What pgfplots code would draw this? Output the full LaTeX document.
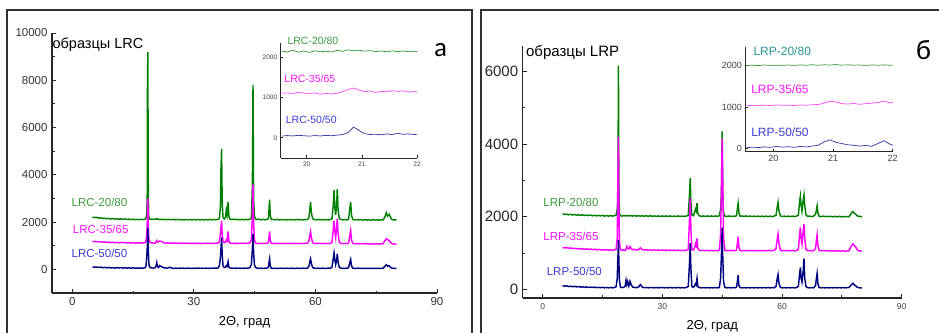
\documentclass[border=0pt]{standalone}
\usepackage{pgfplots}
\usepackage{pgfplotstable}
\pgfplotsset{compat=1.18}
\usepackage{fontspec}
\setmainfont{Liberation Sans}
\newfontfamily\letterfont{Carlito}

\definecolor{colG}{RGB}{0,128,0}
\definecolor{colM}{RGB}{255,0,255}
\definecolor{colB}{RGB}{0,0,128}
\definecolor{txtG}{RGB}{60,155,60}
\definecolor{txtM}{RGB}{255,20,255}
\definecolor{txtB}{RGB}{60,60,215}
\definecolor{inG}{RGB}{50,150,50}
\definecolor{inM}{RGB}{255,70,255}
\definecolor{inB}{RGB}{50,50,160}
\definecolor{txtT}{RGB}{40,150,150}
\definecolor{frm}{RGB}{50,50,50}

\pgfplotstableread{
x g m b
5.0 2210 1190 105
5.5 2190 1170 90
6.0 2205 1180 100
6.5 2170 1160 80
7.0 2185 1175 95
7.5 2150 1150 70
8.0 2165 1160 85
8.5 2140 1140 65
9.0 2155 1155 80
9.5 2130 1130 60
10.0 2150 1150 75
10.5 2125 1125 55
11.0 2145 1145 70
11.5 2120 1120 60
12.0 2140 1140 75
12.5 2115 1125 55
13.0 2135 1140 70
13.5 2110 1115 50
14.0 2130 1135 65
14.5 2105 1110 50
15.0 2125 1130 65
15.5 2100 1110 45
16.0 2120 1125 60
16.5 2100 1105 45
17.0 2120 1125 60
17.5 2105 1110 50
18.0 2130 1140 70
18.2 2160 1200 150
18.4 2400 1500 600
18.5 3200 2000 900
18.55 7500 2800 1200
18.65 9200 3000 1750
18.75 3800 2100 1000
18.85 2300 1400 400
19.0 2140 1180 120
19.3 2110 1130 70
19.6 2130 1120 60
20.0 2115 1110 55
20.4 2125 1100 60
20.7 2120 1180 150
20.85 2150 1220 280
21.0 2130 1150 120
21.3 2110 1170 80
21.6 2125 1200 160
21.9 2105 1180 120
22.2 2120 1160 100
22.5 2100 1130 70
23.0 2120 1110 60
23.5 2100 1120 50
24.0 2115 1105 90
24.5 2100 1120 55
25.0 2115 1100 45
25.5 2095 1115 50
26.0 2115 1095 40
26.5 2095 1110 55
27.0 2110 1100 45
27.5 2090 1115 50
28.0 2110 1095 40
28.5 2095 1110 55
29.0 2115 1090 45
29.5 2090 1105 40
30.0 2110 1095 50
30.5 2095 1110 45
31.0 2115 1090 55
31.5 2090 1105 40
32.0 2110 1090 50
32.5 2095 1105 45
33.0 2110 1095 55
33.5 2090 1110 40
34.0 2115 1090 50
34.5 2095 1105 45
35.0 2110 1095 55
35.5 2100 1110 50
36.0 2120 1110 60
36.3 2160 1180 150
36.55 2600 1500 500
36.7 4300 1800 900
36.85 5100 2050 1350
37.0 2800 1500 600
37.2 2200 1200 150
37.5 2130 1130 80
37.8 2200 1150 90
38.0 2500 1250 150
38.2 2300 1200 120
38.45 2850 1600 330
38.65 2250 1200 100
38.9 2120 1110 60
39.3 2110 1100 50
39.8 2125 1095 45
40.3 2100 1110 55
40.8 2120 1090 45
41.3 2095 1105 50
41.8 2115 1095 40
42.3 2095 1110 55
42.8 2115 1095 45
43.3 2100 1105 50
43.8 2120 1120 70
44.2 2180 1250 200
44.45 3600 2300 900
44.6 7800 3600 1500
44.75 3000 2000 700
44.95 2250 1250 200
45.2 2130 1120 80
45.6 2110 1100 55
46.0 2125 1090 45
46.5 2095 1105 50
47.0 2115 1090 40
47.5 2095 1105 50
48.0 2110 1095 45
48.4 2150 1150 100
48.6 2700 1450 350
48.7 2950 1600 450
48.85 2300 1250 150
49.1 2110 1105 50
49.5 2120 1090 40
50.0 2095 1105 50
50.5 2115 1090 45
51.0 2090 1100 40
51.5 2110 1090 50
52.0 2095 1105 45
52.5 2110 1090 40
53.0 2090 1100 50
53.5 2110 1095 40
54.0 2095 1105 50
54.5 2110 1085 45
55.0 2090 1100 40
55.5 2115 1090 50
56.0 2095 1105 45
56.5 2110 1090 40
57.0 2090 1100 50
57.5 2110 1095 45
58.0 2100 1105 50
58.4 2180 1200 120
58.65 2600 1450 350
58.8 2850 1600 450
59.0 2400 1350 250
59.3 2150 1130 80
59.7 2110 1100 50
60.2 2095 1090 45
60.7 2115 1105 50
61.2 2090 1090 40
61.7 2110 1100 50
62.2 2095 1085 45
62.7 2110 1100 40
63.2 2090 1090 50
63.7 2110 1100 45
64.1 2150 1150 100
64.4 2700 1700 450
64.6 3350 2050 700
64.8 2600 1600 400
65.0 2300 1350 200
65.25 2800 1800 400
65.4 3400 2150 660
65.6 2500 1500 300
65.9 2150 1150 80
66.3 2110 1100 50
66.8 2095 1090 45
67.3 2110 1100 40
67.8 2090 1085 50
68.2 2130 1120 80
68.5 2600 1450 300
68.7 2850 1650 420
68.9 2300 1250 150
69.2 2110 1100 50
69.7 2095 1085 45
70.2 2110 1095 40
70.7 2090 1080 50
71.2 2105 1090 40
71.7 2085 1080 45
72.2 2100 1090 40
72.7 2085 1075 45
73.2 2100 1085 40
73.7 2080 1070 45
74.2 2100 1085 40
74.7 2085 1070 45
75.2 2100 1080 40
75.7 2080 1070 45
76.2 2095 1080 40
76.7 2090 1090 50
77.1 2200 1200 120
77.5 2400 1300 200
77.8 2250 1250 140
78.2 2330 1230 150
78.5 2200 1150 90
78.9 2110 1090 50
79.3 2090 1075 45
79.7 2095 1070 40
80.0 2080 1065 35
}\lrc

\pgfplotstableread{
x g m b
5.0 2080 1150 100
5.5 2060 1140 85
6.0 2070 1150 95
6.5 2050 1130 75
7.0 2065 1140 85
7.5 2045 1120 70
8.0 2060 1130 80
8.5 2040 1115 65
9.0 2055 1125 75
9.5 2035 1105 60
10.0 2050 1120 70
10.5 2030 1100 55
11.0 2045 1115 65
11.5 2030 1095 50
12.0 2045 1110 60
12.5 2025 1090 50
13.0 2040 1105 60
13.5 2020 1085 45
14.0 2035 1100 55
14.5 2020 1080 45
15.0 2035 1095 55
15.5 2015 1080 40
16.0 2030 1090 50
16.5 2015 1075 40
17.0 2030 1085 50
17.5 2015 1075 40
18.0 2030 1085 50
18.4 2040 1100 70
18.7 2200 1400 300
18.8 2460 2500 700
18.9 3500 3500 1000
19.0 6160 4200 1360
19.1 3000 2400 800
19.25 2100 1300 250
19.5 2025 1090 60
19.9 2015 1075 45
20.3 2030 1085 55
20.7 2020 1070 90
20.9 2035 1100 250
21.1 2025 1180 130
21.3 2020 1130 220
21.6 2030 1110 90
21.9 2020 1180 220
22.2 2030 1120 120
22.6 2015 1090 60
23.0 2030 1100 50
23.5 2015 1080 45
24.0 2025 1095 60
24.5 2015 1140 130
25.0 2025 1090 55
25.5 2010 1080 45
26.0 2025 1090 50
26.5 2010 1075 40
27.0 2025 1090 50
27.5 2010 1070 45
28.0 2020 1085 40
28.5 2005 1070 50
29.0 2020 1085 40
29.5 2005 1070 45
30.0 2020 1080 50
30.5 2005 1070 40
31.0 2020 1085 45
31.5 2005 1065 40
32.0 2020 1080 50
32.5 2005 1065 40
33.0 2015 1080 45
33.5 2005 1065 40
34.0 2020 1080 50
34.5 2005 1065 40
35.0 2015 1075 45
35.5 2005 1065 40
36.0 2015 1075 50
36.5 2040 1100 80
36.8 2600 1900 700
37.0 3060 2500 1270
37.15 2400 1700 600
37.4 2050 1100 80
37.8 2030 1080 50
38.1 2120 1150 100
38.3 2200 1250 150
38.5 2150 1200 120
38.7 2370 1400 300
38.9 2080 1120 70
39.3 2020 1075 45
39.8 2010 1065 40
40.3 2020 1075 45
40.8 2005 1060 40
41.3 2020 1075 45
41.8 2005 1060 40
42.3 2020 1070 45
42.8 2005 1060 40
43.3 2020 1070 45
43.8 2005 1060 40
44.3 2030 1080 50
44.6 2200 1500 300
44.8 2600 2700 900
45.0 4350 4150 1700
45.15 2600 3000 900
45.35 2100 1400 200
45.7 2015 1070 50
46.2 2005 1060 40
46.7 2020 1070 45
47.2 2005 1060 40
47.7 2015 1070 45
48.2 2005 1060 40
48.6 2030 1080 60
48.85 2250 1300 250
49.0 2370 1450 385
49.2 2100 1150 100
49.5 2010 1065 45
50.0 2020 1060 40
50.5 2005 1070 45
51.0 2020 1060 40
51.5 2005 1070 45
52.0 2015 1060 40
52.5 2005 1070 45
53.0 2015 1060 40
53.5 2000 1065 45
54.0 2015 1060 40
54.5 2000 1070 45
55.0 2015 1060 40
55.5 2000 1065 45
56.0 2015 1060 40
56.5 2000 1070 45
57.0 2015 1060 40
57.5 2000 1065 45
58.0 2015 1070 40
58.5 2040 1120 80
58.85 2300 1420 330
59.0 2400 1520 410
59.25 2150 1250 150
59.6 2020 1080 50
60.1 2005 1060 40
60.6 2015 1070 45
61.1 2000 1060 40
61.6 2015 1065 45
62.1 2000 1060 40
62.6 2015 1070 45
63.1 2000 1060 40
63.6 2015 1065 45
64.1 2040 1100 80
64.4 2400 1500 400
64.6 2570 1700 600
64.8 2300 1400 300
65.0 2150 1250 200
65.3 2450 1600 500
65.5 2600 1800 850
65.7 2300 1400 300
66.0 2050 1100 80
66.4 2010 1065 45
66.9 2015 1060 40
67.4 2000 1065 45
67.9 2015 1060 40
68.4 2060 1120 100
68.65 2200 1380 330
68.8 2300 1500 440
69.0 2100 1200 150
69.3 2010 1070 50
69.8 2000 1060 40
70.3 2015 1065 45
70.8 2000 1060 40
71.3 2010 1065 45
71.8 2000 1055 40
72.3 2010 1060 45
72.8 1995 1055 40
73.3 2010 1060 45
73.8 1995 1050 40
74.3 2010 1060 45
74.8 1995 1050 40
75.3 2005 1060 45
75.8 1995 1050 40
76.3 2005 1055 45
76.8 2000 1060 50
77.2 2060 1150 100
77.5 2120 1220 140
77.8 2140 1250 165
78.1 2090 1200 120
78.4 2080 1180 100
78.8 2030 1100 60
79.2 2005 1060 45
79.6 2010 1055 40
80.0 1995 1050 35
}\lrp

\pgfplotstableread{
x g m b
19.55 2140 1100 40
19.65 2120 1110 55
19.75 2165 1095 45
19.85 2115 1120 60
19.95 2145 1105 50
20.05 2110 1095 40
20.15 2150 1110 55
20.25 2125 1075 45
20.35 2140 1095 60
20.45 2120 1080 50
20.55 2160 1100 65
20.65 2135 1140 80
20.75 2175 1190 130
20.85 2150 1230 265
20.95 2165 1180 180
21.05 2140 1140 100
21.15 2155 1160 80
21.25 2130 1120 90
21.35 2145 1150 75
21.45 2125 1135 95
21.55 2150 1165 80
21.65 2130 1145 110
21.75 2145 1160 85
21.85 2125 1130 95
21.95 2140 1150 80
22.0 2130 1120 85
}\lrcin

\pgfplotstableread{
x g m b
19.55 2000 1030 20
19.65 2005 1040 35
19.75 1995 1030 25
19.85 2010 1045 40
19.95 2000 1035 30
20.05 2005 1050 50
20.15 2000 1040 35
20.25 2010 1045 45
20.35 2000 1035 30
20.45 2010 1050 50
20.55 2005 1040 40
20.65 2015 1055 60
20.75 2005 1060 80
20.85 2015 1090 160
20.95 2010 1140 210
21.05 2020 1120 150
21.15 2005 1080 120
21.25 2015 1070 90
21.35 2005 1085 80
21.45 2010 1065 60
21.55 2000 1080 75
21.65 2010 1090 55
21.75 2005 1110 120
21.85 2010 1140 190
21.95 2005 1100 110
22.0 2005 1110 80
}\lrpin

\pgfplotsset{
  mainax/.style={
    scale only axis, anchor=south west, clip=false,
    scaled ticks=false,
    axis x line*=bottom, axis y line*=left,
    axis line style={line width=1.3bp, black!85},
    every tick/.style={black!85, line width=0.9bp},
    major tick length=4bp, minor tick length=2.5bp,
    tick align=inside,
    /pgf/number format/assume math mode=true,
    /pgf/number format/1000 sep={},
    xmin=-5, xmax=90, xtick={0,30,60,90}, minor x tick num=1,
    minor y tick num=1,
    every axis x label/.style={at={(axis description cs:0.5,0)}, anchor=center,
       font=\fontsize{13bp}{15bp}\selectfont},
  },
  inax/.style={
    scale only axis, anchor=south west, clip=false,
    scaled ticks=false,
    axis x line*=bottom, axis y line*=left,
    axis line style={line width=0.8bp, black!85},
    every tick/.style={black!85, line width=0.6bp},
    major tick length=2.5bp, tick align=inside,
    /pgf/number format/assume math mode=true,
    /pgf/number format/1000 sep={},
    xmin=19.53, xmax=22, xtick={20,21,22}, ytick={0,1000,2000},
  },
}

\begin{document}
\begin{tikzpicture}
\path[use as bounding box] (0bp,0bp) rectangle (939bp,333bp);
% frames
\draw[frm, line width=1.3bp] (7bp,-5bp) -- (7bp,323bp) -- (472bp,323bp) -- (472bp,-5bp);
\draw[frm, line width=1.3bp] (481bp,-5bp) -- (481bp,323bp) -- (945bp,323bp);

% ---------- left main
\begin{axis}[mainax, at={(52bp,40bp)}, width=385bp, height=260bp,
  ymin=-1000, ymax=10000, ytick={0,2000,4000,6000,8000,10000},
  tick label style={font=\fontsize{11.5bp}{13bp}\selectfont, black!80},
  yticklabel style={xshift=-1bp},
  xticklabel style={yshift=-1bp},
  xlabel={2Θ, град}, xlabel style={yshift=-29.7bp}]
\addplot[colG, line width=1.45bp] table[x=x,y=g]{\lrc};
\addplot[colM, line width=1.45bp] table[x=x,y=m]{\lrc};
\addplot[colB, line width=1.45bp] table[x=x,y=b]{\lrc};
\node[anchor=west, inner sep=0, font=\fontsize{14.5bp}{16bp}\selectfont] at (axis cs:-4.9,9490) {образцы LRC};
\node[anchor=center, inner sep=0, font=\letterfont\fontsize{27bp}{30bp}\selectfont] at (axis cs:90.9,9300) {а};
\node[anchor=west, inner sep=0, txtG, font=\fontsize{11.5bp}{13bp}\selectfont] at (axis cs:-0.2,2840) {LRC-20/80};
\node[anchor=west, inner sep=0, txtM, font=\fontsize{11.5bp}{13bp}\selectfont] at (axis cs:0.1,1680) {LRC-35/65};
\node[anchor=west, inner sep=0, txtB, font=\fontsize{11.5bp}{13bp}\selectfont] at (axis cs:-0.2,665) {LRC-50/50};
\end{axis}

% ---------- left inset
\begin{axis}[inax, at={(280.7bp,175bp)}, width=136.3bp, height=115.3bp,
  ymin=-500, ymax=2350,
  tick label style={font=\fontsize{6.5bp}{7bp}\selectfont, black!75}]
\addplot[inG, line width=0.7bp] table[x=x,y=g]{\lrcin};
\addplot[inM, line width=0.7bp] table[x=x,y=m]{\lrcin};
\addplot[inB, line width=0.7bp] table[x=x,y=b]{\lrcin};
\node[anchor=west, inner sep=0, txtG, font=\fontsize{10.5bp}{12bp}\selectfont] at (axis cs:19.65,2402) {LRC-20/80};
\node[anchor=west, inner sep=0, txtM, font=\fontsize{10.5bp}{12bp}\selectfont] at (axis cs:19.595,1457) {LRC-35/65};
\node[anchor=west, inner sep=0, txtB, font=\fontsize{10.5bp}{12bp}\selectfont] at (axis cs:19.62,444) {LRC-50/50};
\end{axis}

% ---------- right main
\begin{axis}[mainax, at={(522.7bp,35bp)}, width=379bp, height=252bp,
  ymin=-240, ymax=6700, ytick={0,2000,4000,6000},
  yticklabel style={font=\fontsize{15bp}{17bp}\selectfont, black!85, xshift=-1bp},
  xticklabel style={font=\fontsize{8.5bp}{10bp}\selectfont, black!75, yshift=-2bp},
  xlabel={2Θ, град}, xlabel style={yshift=-28bp}]
\addplot[colG, line width=1.45bp] table[x=x,y=g]{\lrp};
\addplot[colM, line width=1.45bp] table[x=x,y=m]{\lrp};
\addplot[colB, line width=1.45bp] table[x=x,y=b]{\lrp};
\node[anchor=west, inner sep=0, font=\fontsize{15bp}{17bp}\selectfont] at (axis cs:-4.2,6523) {образцы LRP};
\node[anchor=center, inner sep=0, font=\letterfont\fontsize{28bp}{30bp}\selectfont] at (axis cs:95.5,6600) {б};
\node[anchor=west, inner sep=0, txtG, font=\fontsize{11.5bp}{13bp}\selectfont] at (axis cs:0.15,2400) {LRP-20/80};
\node[anchor=west, inner sep=0, txtM, font=\fontsize{11.5bp}{13bp}\selectfont] at (axis cs:0.15,1470) {LRP-35/65};
\node[anchor=west, inner sep=0, txtB, font=\fontsize{11.5bp}{13bp}\selectfont] at (axis cs:1.0,485) {LRP-50/50};
\end{axis}

% ---------- right inset
\begin{axis}[inax, at={(745.3bp,181.3bp)}, width=147.4bp, height=105bp,
  ymin=-75, ymax=2450,
  tick label style={font=\fontsize{9bp}{10bp}\selectfont, black!75}]
\addplot[inG, line width=0.7bp] table[x=x,y=g]{\lrpin};
\addplot[inM, line width=0.7bp] table[x=x,y=m]{\lrpin};
\addplot[inB, line width=0.7bp] table[x=x,y=b]{\lrpin};
\node[anchor=west, inner sep=0, txtT, font=\fontsize{12bp}{14bp}\selectfont] at (axis cs:19.665,2337) {LRP-20/80};
\node[anchor=west, inner sep=0, txtM, font=\fontsize{12bp}{14bp}\selectfont] at (axis cs:19.627,1431) {LRP-35/65};
\node[anchor=west, inner sep=0, txtB, font=\fontsize{12bp}{14bp}\selectfont] at (axis cs:19.627,395) {LRP-50/50};
\end{axis}
\end{tikzpicture}
\end{document}
